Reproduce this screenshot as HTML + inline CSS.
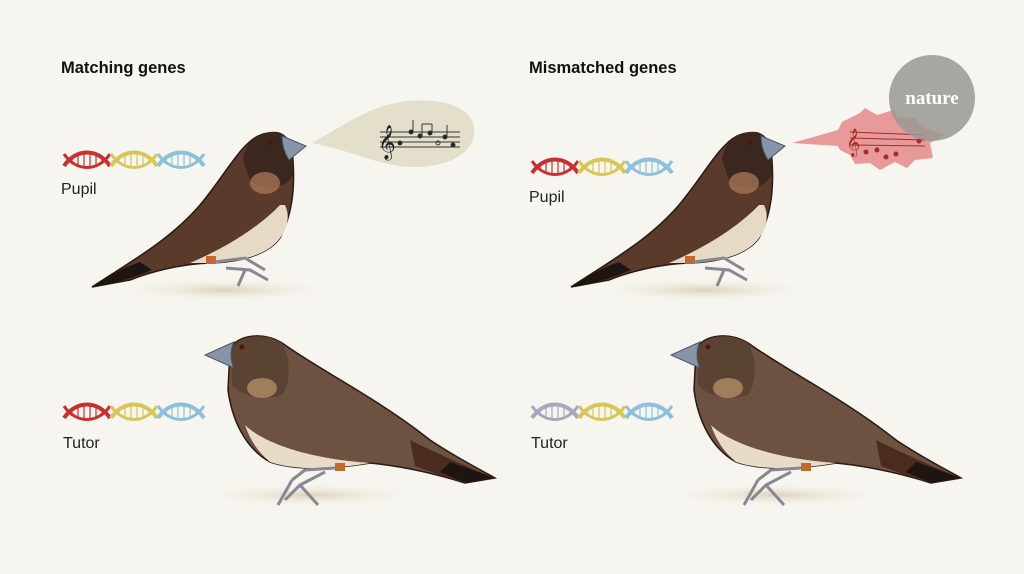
<!DOCTYPE html>
<html><head><meta charset="utf-8"><style>
body{margin:0;background:#f6f5ef}
svg{display:block}
</style></head><body>
<svg width="1024" height="574" viewBox="0 0 1024 574" xmlns="http://www.w3.org/2000/svg" font-family="Liberation Sans, sans-serif">
<defs>
<radialGradient id="sh"><stop offset="0" stop-color="#ddd3bd"/><stop offset="1" stop-color="#f6f5ef" stop-opacity="0"/></radialGradient>
<g id="pupil">
  <ellipse cx="225" cy="290" rx="115" ry="12" fill="url(#sh)"/>
  <path d="M92,287 C130,262 170,240 200,205 C225,175 240,145 258,136 C275,128 292,135 293,160 C295,190 292,215 280,238 C268,255 240,262 210,263 C180,264 150,272 130,280 Z" fill="#5a3a2a" stroke="#2a1a12" stroke-width="1.5"/>
  <path d="M92,287 C110,275 125,267 140,262 L152,270 C135,277 115,284 92,287 Z" fill="#1e1512"/>
  <path d="M243,160 C245,140 262,130 278,132 C292,136 294,150 293,175 C285,190 262,192 250,180 Z" fill="#3a271d"/>
  <ellipse cx="265" cy="183" rx="15" ry="11" fill="#a97a58" opacity="0.75"/>
  <path d="M285,205 C290,215 288,228 280,238 C268,255 240,262 210,263 L190,263 C225,248 258,228 280,205 Z" fill="#e6dac6"/>
  <path d="M282,136 L306,146 L289,160 C284,152 282,145 282,136 Z" fill="#8795a8" stroke="#4b5566"/>
  <circle cx="271" cy="143" r="2.5" fill="#5a1010"/>
  <rect x="206" y="256" width="10" height="8" fill="#c06a30"/>
  <path d="M215,262 L245,258 L265,270 M226,268 L250,270 L268,280 M245,270 L238,286" fill="none" stroke="#8a8793" stroke-width="3"/>
</g>
<g id="tutor">
  <ellipse cx="310" cy="495" rx="115" ry="12" fill="url(#sh)"/>
  <path d="M230,350 C235,335 265,330 285,345 C320,370 380,400 430,440 C460,460 485,472 495,478 L465,483 C430,472 400,466 370,463 C340,468 300,472 270,462 C245,448 232,420 228,390 Z" fill="#6d5241" stroke="#2a1a12" stroke-width="1.5"/>
  <path d="M410,440 C440,455 470,468 495,478 L465,483 C440,475 425,470 415,466 Z" fill="#4a2c1e"/>
  <path d="M450,462 L495,478 L465,483 L440,472 Z" fill="#1e1512"/>
  <path d="M231,350 C236,336 262,331 282,343 C292,360 290,385 282,395 C262,402 240,395 232,385 Z" fill="#5a4332"/>
  <ellipse cx="262" cy="388" rx="15" ry="10" fill="#b8906a" opacity="0.75"/>
  <path d="M245,425 C260,440 300,458 370,463 C340,468 300,472 270,462 C258,452 250,440 245,425 Z" fill="#e8dcc8"/>
  <path d="M234,342 L205,355 L234,368 C230,360 230,350 234,342 Z" fill="#8795a8" stroke="#4b5566"/>
  <circle cx="242" cy="347" r="2.5" fill="#5a1010"/>
  <rect x="335" y="463" width="10" height="8" fill="#c06a30"/>
  <path d="M335,468 L305,470 L292,480 M325,472 L300,485 L285,500 M300,485 L318,505 M292,480 L278,505" fill="none" stroke="#8a8793" stroke-width="3"/>
</g>
<g id="seg">
  <path d="M0,14 C12,-4 34,-4 46,14" fill="none" stroke-width="4"/>
  <path d="M0,2 C12,20 34,20 46,2" fill="none" stroke-width="3"/>
  <path d="M8,4 V12 M14,1 V15 M20,0 V16 M26,0 V16 M32,1 V15 M38,4 V12" stroke-width="1.2"/>
</g>
</defs>

<text x="61" y="73" font-size="16.5" font-weight="bold" fill="#111">Matching genes</text>
<text x="529" y="73" font-size="16.5" font-weight="bold" fill="#111">Mismatched genes</text>

<g transform="translate(64,152)"><use href="#seg" stroke="#c8312f"/><use href="#seg" x="47" stroke="#d8c65a"/><use href="#seg" x="94" stroke="#8ec0dd"/></g>
<g transform="translate(64,404)"><use href="#seg" stroke="#c8312f"/><use href="#seg" x="47" stroke="#d8c65a"/><use href="#seg" x="94" stroke="#8ec0dd"/></g>
<g transform="translate(532,159)"><use href="#seg" stroke="#c8312f"/><use href="#seg" x="47" stroke="#d8c65a"/><use href="#seg" x="94" stroke="#8ec0dd"/></g>
<g transform="translate(532,404)"><use href="#seg" stroke="#a9a6c0"/><use href="#seg" x="47" stroke="#d8c65a"/><use href="#seg" x="94" stroke="#8ec0dd"/></g>

<text x="61" y="194" font-size="16" fill="#222">Pupil</text>
<text x="63" y="448" font-size="16" fill="#222">Tutor</text>
<text x="529" y="202" font-size="16" fill="#222">Pupil</text>
<text x="531" y="448" font-size="16" fill="#222">Tutor</text>

<use href="#pupil"/>
<use href="#tutor"/>
<use href="#pupil" transform="translate(479,0)"/>
<use href="#tutor" transform="translate(466,0)"/>

<path d="M312,143 C340,128 365,108 400,102 C450,95 478,112 474,135 C470,158 440,168 410,167 C380,166 350,150 312,143 Z" fill="#e4dfcb"/>
<g stroke="#333" stroke-width="1" fill="#222">
  <line x1="380" y1="132" x2="460" y2="132"/><line x1="380" y1="137" x2="460" y2="137"/><line x1="380" y1="142" x2="460" y2="142"/><line x1="380" y1="147" x2="460" y2="147"/>
  <text x="378" y="152" font-size="30" stroke="none" style="font-family:'DejaVu Sans',sans-serif">𝄞</text>
  <circle cx="400" cy="143" r="2"/><circle cx="411" cy="132" r="2"/><circle cx="420" cy="136" r="2"/><circle cx="430" cy="133" r="2"/><circle cx="438" cy="143" r="2" fill="none"/><circle cx="445" cy="137" r="2"/><circle cx="453" cy="145" r="2"/>
  <line x1="413" y1="132" x2="413" y2="120"/><line x1="422" y1="136" x2="422" y2="124"/><line x1="432" y1="133" x2="432" y2="124"/><line x1="422" y1="124" x2="432" y2="124"/><line x1="447" y1="137" x2="447" y2="125"/>
</g>

<path d="M792,143 L838,130 L842,122 L860,113 L865,108 L877,115 L893,110 L898,117 L915,118 L922,127 L945,135 L930,143 L933,158 L915,160 L907,168 L895,162 L880,170 L870,163 L855,164 L850,155 L840,150 L838,146 Z" fill="#e89a9a"/>
<g stroke="#a52a2a" stroke-width="1" fill="#a52a2a">
  <line x1="850" y1="132" x2="925" y2="135"/><line x1="850" y1="138" x2="925" y2="140"/><line x1="850" y1="145" x2="925" y2="146"/>
  <text x="846" y="150" font-size="24" stroke="none" style="font-family:'DejaVu Sans',sans-serif">𝄞</text>
  <circle cx="866" cy="152" r="2"/><circle cx="877" cy="150" r="2"/><circle cx="886" cy="157" r="2"/><circle cx="896" cy="154" r="2"/><circle cx="919" cy="141" r="2"/>
</g>
<circle cx="932" cy="98" r="43" fill="#9a9893" opacity="0.85"/>
<text x="932" y="104" font-size="19" fill="#fff" text-anchor="middle" style="font-family:'Liberation Serif',serif;font-weight:bold">nature</text>
</svg>
</body></html>
